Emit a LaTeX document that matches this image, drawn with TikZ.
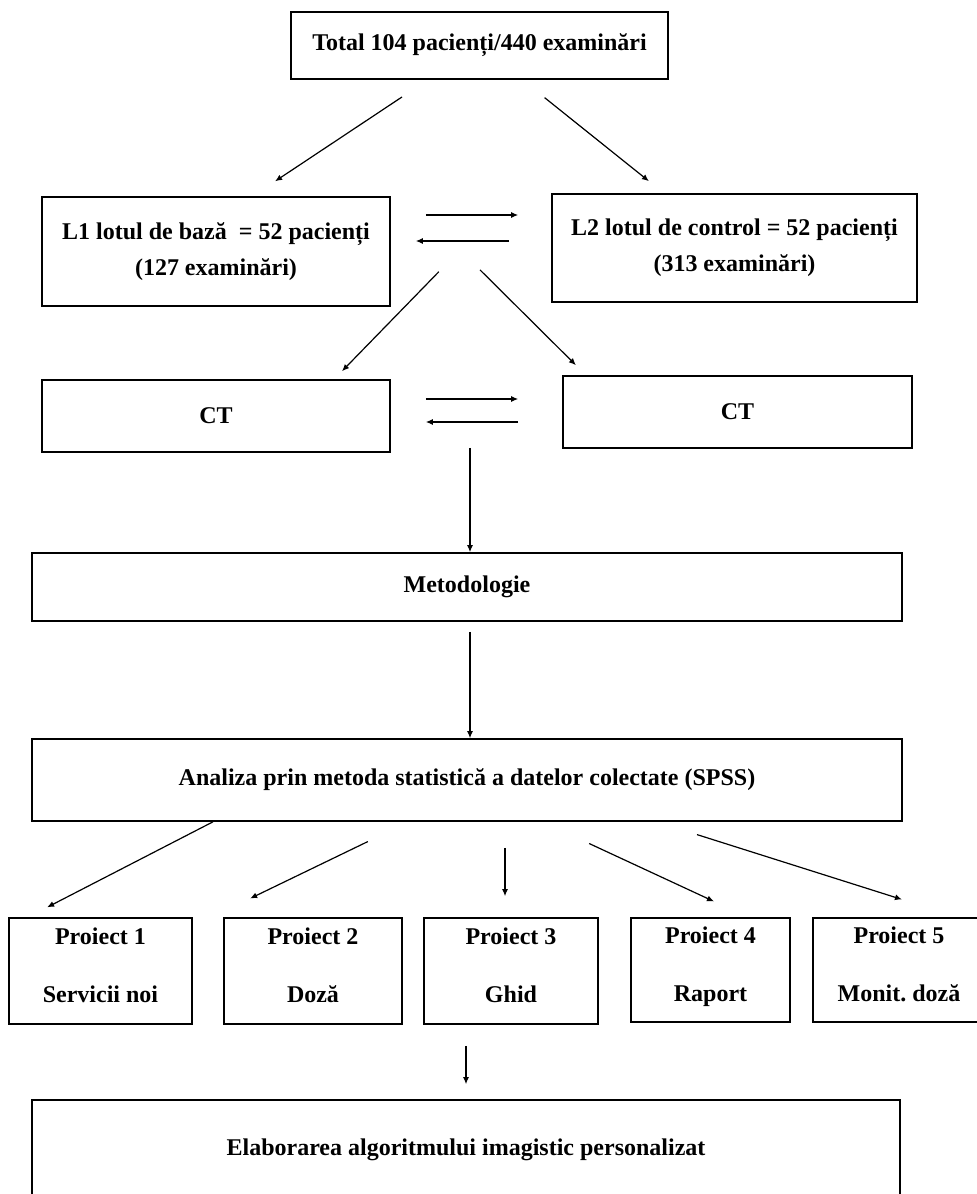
\documentclass[tikz,border=0pt]{standalone}
\usepackage{fontspec}
\setmainfont{Liberation Serif}
\usetikzlibrary{arrows.meta}

\tikzset{
  box/.style={draw, line width=0.8pt, inner sep=0pt, align=center,
    font=\fontsize{12}{18}\selectfont\bfseries},
  arr/.style={-{Latex[length=3.5pt,width=3pt]}, line width=0.6pt},
}

\begin{document}
\begin{tikzpicture}[x=0.5pt,y=-0.5pt]
				\useasboundingbox (0,0) rectangle (976,1194);
				\node[box, minimum width=188.5pt, minimum height=33.5pt] (total) at (479.5,45.5) {Total 104 pacienți/440 examinări};
				\node[box, minimum width=174pt, minimum height=54.5pt] (lot1) at (216,251.5) {L1 lotul de bază~ = 52 pacienți\\(127 examinări)};
				\node[box, minimum width=182.5pt, minimum height=54pt] (lot2) at (734.5,248) {L2 lotul de control = 52 pacienți\\(313 examinări)};
				\node[box, minimum width=174pt, minimum height=36pt] (ct1) at (216,416) {CT};
				\node[box, minimum width=174.5pt, minimum height=36pt] (ct2) at (737.5,412) {CT};
				\node[box, minimum width=435pt, minimum height=34pt] (met) at (467,587) {Metodologie};
				\node[box, minimum width=435pt, minimum height=41pt] (ana) at (467,780) {Analiza prin metoda statistică a datelor colectate (SPSS)};
				\node[box, minimum width=91.5pt, minimum height=53pt] (p1) at (100.5,971) {Proiect 1\\[11pt]Servicii noi\\[-12pt]\mbox{}};
				\node[box, minimum width=89pt, minimum height=53pt] (p2) at (313,971) {Proiect 2\\[11pt]Doză\\[-12pt]\mbox{}};
				\node[box, minimum width=87pt, minimum height=53pt] (p3) at (511,971) {Proiect 3\\[11pt]Ghid\\[-12pt]\mbox{}};
				\node[box, minimum width=79.5pt, minimum height=52pt] (p4) at (710.5,970) {Proiect 4\\[11pt]Raport\\[-12pt]\mbox{}};
				\node[box, minimum width=86pt, minimum height=52pt] (p5) at (899,970) {Proiect 5\\[11pt]Monit.\ doză\\[-12pt]\mbox{}};
				\node[box, minimum width=434pt, minimum height=50pt] (fin) at (466,1150) {Elaborarea algoritmului imagistic personalizat};
				\coordinate (split) at (460,250);
				\draw[arr, shorten <=46.5pt, shorten >=13.5pt] (total.center) -- ([xshift=18.3pt]lot1.north);
				\draw[arr, shorten <=41.7pt, shorten >=9.6pt] (total.center) -- ([xshift=-35.3pt]lot2.north);
				\draw[arr, shorten <=17.5pt, shorten >=16.5pt] ([yshift=18.25pt]lot1.east) -- ([yshift=18.25pt]lot1.east -| lot2.west);
				\draw[arr, shorten <=21pt, shorten >=12.5pt] ([yshift=5.25pt]lot1.east -| lot2.west) -- ([yshift=5.25pt]lot1.east);
				\draw[arr, shorten <=15.2pt, shorten >=5.6pt] (split) -- ([xshift=59.1pt]ct1.north);
				\draw[arr, shorten <=14.1pt, shorten >=7.1pt] (split) -- ([xshift=-75.75pt]ct2.north);
				\draw[arr, shorten <=17.5pt, shorten >=22pt] ([yshift=8.5pt]ct1.east) -- ([yshift=8.5pt]ct1.east -| ct2.west);
				\draw[arr, shorten <=22pt, shorten >=17.5pt] ([yshift=-3pt]ct1.east -| ct2.west) -- ([yshift=-3pt]ct1.east);
				\draw[arr, shorten <=-2.5pt] ([xshift=1.5pt]met.north |- ct1.south) -- ([xshift=1.5pt]met.north);
				\draw[arr, shorten <=5pt] ([xshift=1.5pt]met.south) -- ([xshift=1.5pt]ana.north);
				\draw[arr, shorten >=10.8pt] ([xshift=-127pt]ana.south) -- ([xshift=-36.3pt]p1.north);
				\draw[arr, shorten <=22.7pt, shorten >=21.5pt] ([xshift=-29.15pt]ana.south) -- ([xshift=-50.8pt]p2.north);
				\draw[arr, shorten <=13pt, shorten >=10.5pt] ([xshift=19pt]ana.south) -- ([xshift=19pt]ana.south |- p3.north);
				\draw[arr, shorten <=25.8pt, shorten >=18.7pt] ([xshift=37.7pt]ana.south) -- ([xshift=18.7pt]p4.north);
				\draw[arr, shorten <=21.2pt, shorten >=29.4pt] ([xshift=94.8pt]ana.south) -- ([xshift=29.5pt]p5.north);
				\draw[arr, shorten <=10.5pt, shorten >=7.5pt] (fin.north |- p3.south) -- (fin.north);
			\end{tikzpicture}
\end{document}
